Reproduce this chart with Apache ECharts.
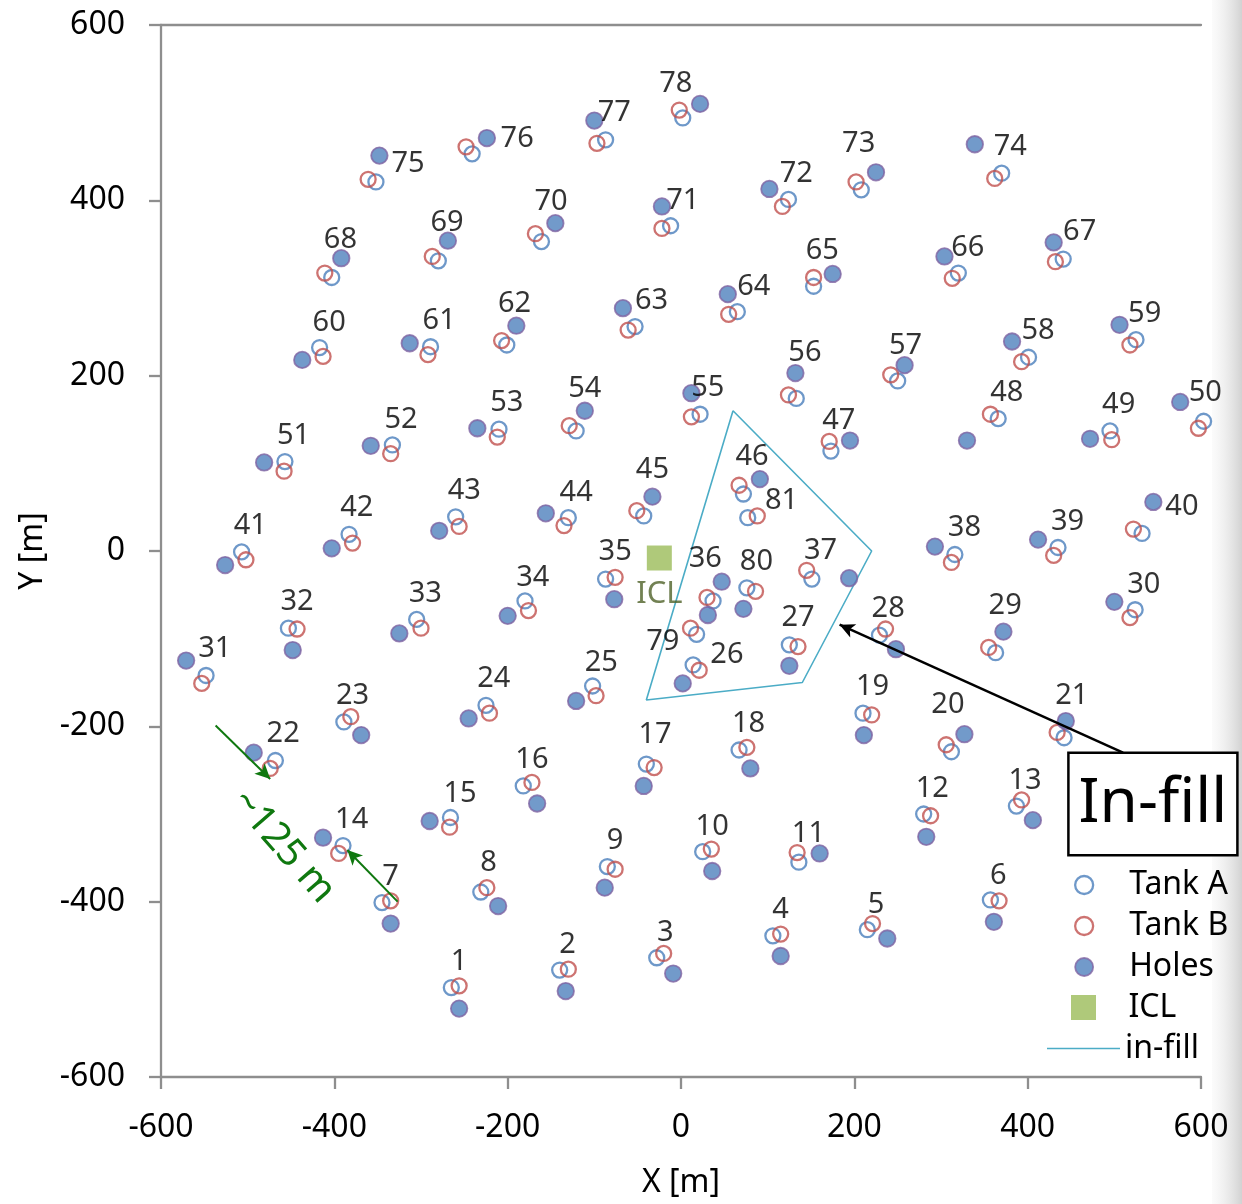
<!DOCTYPE html>
<html>
<head>
<meta charset="utf-8">
<script src="https://cdn.jsdelivr.net/npm/echarts@6/dist/echarts.min.js"></script>
<style>
  html, body { margin: 0; padding: 0; background: #fff; }
  #chart { width: 1242px; height: 1204px; }
</style>
</head>
<body>
<div id="chart"></div>
<script>
// Tank A positions (hole n at index n-1), metres
const tankA = [
  [-265,-498],[-140,-478],[-28,-464],[106,-439],[215,-432],[357,-398],[-345,-401],[-231,-389],[-85,-360],[25,-343],
  [136,-355],[280,-300],[387,-291],[-390,-336],[-266,-304],[-182,-268],[-40,-243],[67,-227],[210,-185],[312,-229],
  [442,-213],[-468,-239],[-389,-195],[-225,-176],[-102,-154],[14,-130],[125,-107],[229,-96],[363,-116],[524,-67],
  [-548,-142],[-453,-88],[-305,-78],[-180,-57],[-87,-32],[37,-57],[151,-32],[316,-4],[435,4],[532,20],
  [-507,-1],[-383,19],[-260,39],[-130,38],[-43,40],[72,65],[173,114],[366,151],[495,137],[603,148],
  [-457,102],[-333,121],[-210,139],[-121,137],[22,156],[133,174],[250,194],[401,221],[525,241],[-417,232],
  [-289,233],[-201,235],[-53,256],[65,273],[153,302],[320,317],[441,333],[-403,312],[-280,331],[-161,353],
  [-12,371],[124,401],[208,412],[370,431],[-352,421],[-241,453],[-87,469],[2,494],[18,-95],[76,-42],
  [77,38]
];
// Tank B positions
const tankB = [
  [-256,-496],[-130,-477],[-20,-459],[115,-437],[221,-425],[367,-399],[-335,-399],[-224,-384],[-76,-363],[35,-340],
  [134,-344],[288,-302],[393,-284],[-395,-345],[-267,-315],[-172,-264],[-31,-247],[76,-224],[220,-187],[306,-221],
  [434,-207],[-474,-248],[-381,-189],[-221,-185],[-98,-165],[21,-136],[135,-109],[236,-89],[355,-110],[518,-76],
  [-553,-151],[-443,-89],[-300,-88],[-176,-68],[-76,-30],[30,-53],[145,-22],[312,-13],[430,-5],[522,25],
  [-502,-10],[-379,9],[-256,28],[-135,29],[-51,46],[67,75],[171,125],[357,156],[497,127],[597,140],
  [-458,91],[-335,111],[-212,130],[-129,143],[12,153],[124,178],[242,201],[393,216],[518,235],[-413,222],
  [-292,224],[-207,240],[-61,252],[55,270],[153,312],[313,311],[432,330],[-411,317],[-287,336],[-168,362],
  [-22,368],[117,393],[202,421],[362,425],[-361,424],[-248,461],[-97,465],[-2,503],[11,-88],[86,-46],
  [88,40]
];
// Drilled hole positions (hole 81 has no hole)
const holes = [
  [-256,-522],[-133,-502],[-9,-482],[115,-462],[238,-442],[361,-423],[-335,-425],[-211,-405],[-88,-384],[36,-365],
  [160,-345],[283,-326],[406,-307],[-413,-327],[-290,-308],[-166,-288],[-43,-268],[80,-248],[211,-210],[327,-209],
  [444,-194],[-493,-230],[-369,-210],[-245,-191],[-121,-171],[2,-151],[125,-131],[248,-112],[372,-92],[500,-58],
  [-571,-125],[-448,-113],[-325,-94],[-200,-74],[-77,-55],[47,-35],[194,-31],[293,5],[412,13],[545,56],
  [-526,-16],[-403,3],[-279,23],[-156,43],[-33,62],[91,82],[195,126],[330,126],[472,128],[576,170],
  [-481,101],[-358,120],[-235,140],[-111,160],[12,180],[132,203],[258,212],[382,239],[506,258],[-437,218],
  [-313,237],[-190,257],[-67,277],[54,293],[175,316],[304,336],[430,352],[-392,334],[-269,354],[-145,374],
  [-22,393],[102,413],[225,432],[339,464],[-348,451],[-224,471],[-100,491],[22,510],[31,-73],[72,-66],
  null
];
// Where each hole number is written
const tagAt = [
  [-256,-468],[-131,-449],[-18,-435],[115,-409],[225,-404],[366,-370],[-335,-372],[-222,-356],[-76,-330],[36,-314],
  [147,-323],[290,-271],[397,-262],[-380,-307],[-255,-277],[-172,-238],[-30,-210],[78,-197],[221,-155],[308,-175],
  [451,-165],[-459,-208],[-379,-165],[-216,-146],[-92,-127],[53,-118],[135,-76],[239,-66],[374,-63],[534,-38],
  [-538,-112],[-443,-58],[-295,-49],[-171,-30],[-76,-1],[28,-9],[161,0],[327,26],[446,33],[578,50],
  [-497,29],[-374,49],[-250,69],[-121,67],[-33,93],[82,107],[182,149],[376,181],[505,167],[605,180],
  [-447,131],[-323,150],[-201,169],[-111,185],[31,186],[143,226],[259,234],[412,251],[535,271],[-406,260],
  [-279,263],[-192,282],[-34,285],[84,301],[163,342],[331,346],[460,364],[-393,355],[-270,374],[-150,398],
  [2,400],[133,430],[205,464],[380,461],[-315,442],[-189,470],[-77,500],[-6,533],[-21,-104],[87,-12],
  [116,57]
];
const icl = [[-25, -8]];
// In-fill boundary (closed)
const infill = [[60,160],[220,0],[140,-150],[-40,-170],[60,160]];
// Annotations
const calloutArrow = [[510,-230],[183,-84]];
const calloutBox = [[447,-230],[642,-347]];
const spacingArrows = [[[-537,-199],[-474,-260]], [[-327,-400],[-385,-341]]];
const spacingText = { at: [-459,-337], text: '~125 m' };
const xTicks = { min: -600, max: 600, step: 200 };
const yTicks = { min: -600, max: 600, step: 200 };

const FONT = 'Noto Sans';
const AXIS_GREY = '#8e8e8e';
const GREEN = '#0f780f';

const chart = echarts.init(document.getElementById('chart'), null, { renderer: 'canvas' });

function axisBase(t) {
  return {
    type: 'value', min: t.min, max: t.max, interval: t.step,
    splitLine: { show: false },
    axisLine: { show: true, onZero: false, lineStyle: { color: AXIS_GREY, width: 2.3 } },
    axisTick: { show: true, inside: false, length: 12, lineStyle: { color: AXIS_GREY, width: 2.3 } },
    axisLabel: { fontSize: 32, color: '#000', fontFamily: FONT, showMinLabel: true, showMaxLabel: true },
    nameTextStyle: { fontSize: 32, color: '#000', fontFamily: FONT },
    nameLocation: 'middle'
  };
}

const xMain = axisBase(xTicks);
xMain.position = 'bottom';
xMain.name = 'X [m]';
xMain.nameGap = 90;
xMain.axisLabel.margin = 35;

const xTop = {
  type: 'value', min: xTicks.min, max: xTicks.max, position: 'top',
  axisLine: { show: true, onZero: false, lineStyle: { color: AXIS_GREY, width: 2.3 } },
  axisTick: { show: false }, axisLabel: { show: false }, splitLine: { show: false }
};

const yMain = axisBase(yTicks);
yMain.position = 'left';
yMain.name = 'Y [m]';
yMain.nameGap = 108;
yMain.axisLabel.margin = 36;
yMain.axisLabel.padding = [5, 0, 0, 0];

const legendText = { fontSize: 32, lineHeight: 41, color: '#000', fontFamily: FONT };

const option = {
  animation: false,
  backgroundColor: '#fff',
  textStyle: { fontFamily: FONT, color: '#000' },
  grid: { left: 161, top: 25, width: 1040, height: 1054 },
  xAxis: [xMain, xTop],
  yAxis: yMain,
  legend: [
    {
      orient: 'vertical', left: 1074, top: 864.5, padding: 0, itemGap: 0,
      itemWidth: 80, itemHeight: 18, textStyle: legendText,
      itemStyle: { borderWidth: 2.3 },
      data: [{ name: 'Tank A' }, { name: 'Tank B' }, { name: 'Holes', itemStyle: { borderWidth: 1.8 } }],
      selectedMode: false
    },
    {
      orient: 'vertical', left: 1071, top: 987, padding: 0, itemGap: 0,
      itemWidth: 80, itemHeight: 25, textStyle: legendText,
      data: [{ name: 'ICL', icon: 'path://M0,0h10v10h-10z' }],
      selectedMode: false
    },
    {
      orient: 'vertical', left: 1047, top: 1028, padding: 0, itemGap: 0,
      itemWidth: 73, itemHeight: 14, textStyle: legendText,
      data: [{ name: 'in-fill', icon: 'path://M0,0h73v1.6h-73z' }],
      selectedMode: false
    }
  ],
  series: [
    {
      name: 'in-fill', type: 'line', data: infill, symbol: 'none', clip: false, z: 1,
      lineStyle: { color: '#4bacc6', width: 1.6 }, itemStyle: { color: '#4bacc6' }
    },
    {
      name: 'Tank A', type: 'scatter', data: tankA, symbol: 'circle', symbolSize: 15, clip: false, z: 2,
      itemStyle: { color: 'rgba(0,0,0,0)', borderColor: '#4a7ebb', borderWidth: 2.3 }
    },
    {
      name: 'Tank B', type: 'scatter', data: tankB, symbol: 'circle', symbolSize: 15, clip: false, z: 3,
      itemStyle: { color: 'rgba(0,0,0,0)', borderColor: '#c0504d', borderWidth: 2.3 }
    },
    {
      name: 'Holes', type: 'scatter', data: holes.filter(Boolean), symbol: 'circle', symbolSize: 16.5, clip: false, z: 4,
      itemStyle: { color: '#4f81bd', borderColor: '#8064a2', borderWidth: 1.8 }
    },
    {
      name: 'ICL', type: 'scatter', data: icl, symbol: 'rect', symbolSize: 25, clip: false, z: 4,
      itemStyle: { color: '#9bbb59' },
      label: { show: true, position: 'bottom', distance: 8, formatter: 'ICL', fontSize: 31, color: '#4f6228', fontFamily: FONT }
    },
    {
      name: 'hole no.', type: 'scatter', clip: false, z: 6, symbolSize: 1, silent: true,
      data: tagAt.map((p, i) => [p[0], p[1], String(i + 1)]),
      itemStyle: { color: 'rgba(0,0,0,0)' },
      label: { show: true, position: 'inside', formatter: p => p.value[2], fontSize: 29, color: '#000', fontFamily: FONT }
    },
    {
      name: 'callouts', type: 'scatter', data: [], clip: false, z: 7, silent: true,
      markLine: {
        silent: true, animation: false, symbol: ['none', 'arrow'], symbolSize: [11, 15],
        label: { show: false },
        data: [
          [{ coord: calloutArrow[0], lineStyle: { color: '#000', width: 2.5, type: 'solid' } }, { coord: calloutArrow[1] }],
          [{ coord: spacingArrows[0][0], lineStyle: { color: GREEN, width: 2, type: 'solid' } }, { coord: spacingArrows[0][1] }],
          [{ coord: spacingArrows[1][0], lineStyle: { color: GREEN, width: 2, type: 'solid' } }, { coord: spacingArrows[1][1] }]
        ]
      }
    }
  ]
};

chart.setOption(option);

// Annotation box and rotated text anchored in data space
const toPx = p => chart.convertToPixel({ seriesIndex: 1 }, p);
const b0 = toPx(calloutBox[0]);
const b1 = toPx(calloutBox[1]);
const t0 = toPx(spacingText.at);

chart.setOption({
  graphic: [
    {
      type: 'rect', z: -10, silent: true,
      shape: { x: 1212, y: 0, width: 30, height: 1204 },
      style: {
        fill: new echarts.graphic.LinearGradient(0, 0, 1, 0, [
          { offset: 0, color: 'rgba(235,235,235,0.2)' },
          { offset: 1, color: 'rgba(205,205,205,0.9)' }
        ])
      }
    },
    {
      type: 'rect', z: 20, silent: true,
      shape: { x: b0[0], y: b0[1], width: b1[0] - b0[0], height: b1[1] - b0[1] },
      style: { fill: '#fff', stroke: '#000', lineWidth: 2.5 }
    },
    {
      type: 'text', z: 21, silent: true,
      x: (b0[0] + b1[0]) / 2, y: (b0[1] + b1[1]) / 2,
      style: { text: 'In-fill', fontSize: 62, fontFamily: FONT, fill: '#000', align: 'center', verticalAlign: 'middle' }
    },
    {
      type: 'text', z: 21, silent: true,
      x: t0[0], y: t0[1], rotation: -49 * Math.PI / 180,
      style: { text: spacingText.text, fontSize: 39, fontFamily: FONT, fill: GREEN, align: 'center', verticalAlign: 'middle' }
    }
  ]
});
</script>
</body>
</html>
